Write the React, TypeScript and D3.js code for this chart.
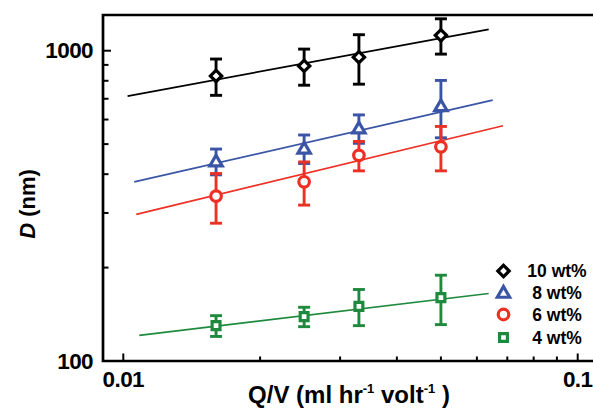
import React from "react";
import * as d3 from "d3";

// ---- data ----
const qv = [0.016, 0.025, 0.033, 0.05];

const seriesNames = ["10 wt%", "8 wt%", "6 wt%", "4 wt%"];
const d10 = [829, 893, 953, 1121];
const e10 = [111, 119, 173, 146];
const d8 = [440, 484, 562, 663];
const e8 = [42, 51, 59, 139];
const d6 = [340, 378, 460, 490];
const e6 = [62, 60, 50, 80];
const d4 = [130, 139, 150, 160];
const e4 = [10, 10, 20, 29];

// fitted lines: [start Q/V, end Q/V], [start D, end D]
const fit10x = [0.01022, 0.0637];
const fit10y = [714, 1172];
const fit8x = [0.01057, 0.065];
const fit8y = [378, 693];
const fit6x = [0.01068, 0.0685];
const fit6y = [297, 573];
const fit4x = [0.01084, 0.0637];
const fit4y = [121, 165];

const xMajor = [0.01, 0.1];
const xMinor = [0.02, 0.03, 0.04, 0.05, 0.06, 0.07, 0.08, 0.09];
const yMajor = [100, 1000];
const yMinor = [200, 300, 400, 500, 600, 700, 800, 900];

const colors = ["#000000", "#3a55a5", "#ee3024", "#1f8a3e"];
const shapes = ["diamond", "triangle", "circle", "square"];

const FONT = "'Liberation Sans', Arial, sans-serif";

export default function App() {
  const W = 593;
  const H = 411;
  const left = 103;
  const top = 15;
  const bottom = 361;
  const right = 597;

  const x = d3.scaleLog().domain([0.01, 0.1]).range([123.3, 577.7]);
  const y = d3.scaleLog().domain([100, 1000]).range([361, 50.7]);

  const series = [
    { d: d10, e: e10, fx: fit10x, fy: fit10y },
    { d: d8, e: e8, fx: fit8x, fy: fit8y },
    { d: d6, e: e6, fx: fit6x, fy: fit6y },
    { d: d4, e: e4, fx: fit4x, fy: fit4y },
  ];

  const line = d3
    .line<[number, number]>()
    .x((p) => x(p[0]))
    .y((p) => y(p[1]));

  const markerPath = (shape: string) => {
    switch (shape) {
      case "diamond":
        return d3.symbol(d3.symbolSquare, 64)()!;
      case "triangle":
        return d3.symbol(d3.symbolTriangle, 66)()!;
      case "circle":
        return d3.symbol(d3.symbolCircle, 88)()!;
      default:
        return d3.symbol(d3.symbolSquare, 62)()!;
    }
  };

  const marker = (shape: string, cx: number, cy: number, color: string, key: string) => (
    <path
      key={key}
      d={markerPath(shape)}
      transform={`translate(${cx},${cy})${shape === "diamond" ? " rotate(45)" : ""}${shape === "triangle" ? " translate(0,1)" : ""}`}
      fill="#fff"
      stroke={color}
      strokeWidth={3.2}
      strokeLinejoin="miter"
    />
  );

  const legendY = [271, 292.7, 314.5, 337.5];

  return (
    <svg
      width={W}
      height={H}
      style={{ position: "absolute", left: 0, top: 0, background: "#fff" }}
      fontFamily={FONT}
    >
      {/* fit lines */}
      {series.map((s, i) => (
        <path
          key={"fit" + i}
          d={line([
            [s.fx[0], s.fy[0]],
            [s.fx[1], s.fy[1]],
          ])!}
          stroke={colors[i]}
          strokeWidth={1.7}
          fill="none"
        />
      ))}

      {/* error bars */}
      {series.map((s, i) =>
        qv.map((q, j) => {
          const cx = x(q);
          const y1 = y(s.d[j] + s.e[j]);
          const y0 = y(s.d[j] - s.e[j]);
          return (
            <g key={`eb${i}-${j}`} stroke={colors[i]} strokeWidth={2.9}>
              <line x1={cx} x2={cx} y1={y1} y2={y0} />
              <line x1={cx - 6} x2={cx + 6} y1={y1} y2={y1} />
              <line x1={cx - 6} x2={cx + 6} y1={y0} y2={y0} />
            </g>
          );
        })
      )}

      {/* markers */}
      {series.map((s, i) =>
        qv.map((q, j) => marker(shapes[i], x(q), y(s.d[j]), colors[i], `m${i}-${j}`))
      )}

      {/* frame */}
      <path
        d={`M${right},${top}H${left}V${bottom}H${right}`}
        fill="none"
        stroke="#000"
        strokeWidth={2.7}
      />

      {/* x ticks */}
      {xMajor.map((t) => (
        <line key={"xM" + t} x1={x(t)} x2={x(t)} y1={bottom} y2={bottom - 7.5} stroke="#000" strokeWidth={2} />
      ))}
      {xMinor.map((t) => (
        <line key={"xm" + t} x1={x(t)} x2={x(t)} y1={bottom} y2={bottom - 4.5} stroke="#000" strokeWidth={2} />
      ))}
      {/* y ticks */}
      {yMajor.map((t) => (
        <line key={"yM" + t} x1={left} x2={left + 8} y1={y(t)} y2={y(t)} stroke="#000" strokeWidth={2} />
      ))}
      {yMinor.map((t) => (
        <line key={"ym" + t} x1={left} x2={left + 5.5} y1={y(t)} y2={y(t)} stroke="#000" strokeWidth={2} />
      ))}

      {/* tick labels */}
      {yMajor.map((t) => (
        <text
          key={"yl" + t}
          x={93}
          y={y(t)}
          textAnchor="end"
          dominantBaseline="central"
          fontSize={22.5}
          fontWeight="bold"
          letterSpacing={-0.6}
        >
          {t}
        </text>
      ))}
      {xMajor.map((t) => (
        <text
          key={"xl" + t}
          x={x(t)}
          y={386.5}
          textAnchor="middle"
          fontSize={22.5}
          fontWeight="bold"
          letterSpacing={-0.6}
        >
          {t}
        </text>
      ))}

      {/* axis titles */}
      <text x={349} y={402.5} textAnchor="middle" fontSize={24} fontWeight="bold">
        Q/V (ml hr
        <tspan fontSize={13} dy={-10}>-1</tspan>
        <tspan dy={10}> volt</tspan>
        <tspan fontSize={13} dy={-10}>-1</tspan>
        <tspan dy={10}> )</tspan>
      </text>
      <text
        transform="translate(35,204) rotate(-90)"
        textAnchor="middle"
        fontSize={22}
        fontWeight="bold"
      >
        <tspan fontStyle="italic">D</tspan> (nm)
      </text>

      {/* legend */}
      {seriesNames.map((n, i) => (
        <g key={"lg" + i}>
          {marker(shapes[i], 503.5, legendY[i], colors[i], "lm" + i)}
          <text x={557} y={legendY[i]} textAnchor="middle" dominantBaseline="central" fontSize={17.5} fontWeight="bold">
            {n}
          </text>
        </g>
      ))}
    </svg>
  );
}
